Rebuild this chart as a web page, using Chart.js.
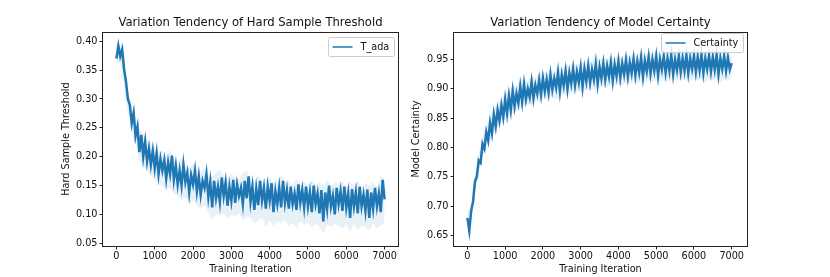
<!DOCTYPE html>
<html>
<head>
<meta charset="utf-8">
<script src="https://cdn.jsdelivr.net/npm/chart.js@4"></script>
<style>
  body { margin: 0; background: #fff; }
  #wrap { position: relative; width: 830px; height: 277px; }
  canvas { position: absolute; top: 0; }
</style>
</head>
<body>
<div id="wrap">
  <canvas id="thresholdChart" width="415" height="277" style="left:0"></canvas>
  <canvas id="certaintyChart" width="425" height="277" style="left:405px"></canvas>
</div>
<script>
// logged every 50 iterations (line) and every 100 iterations (shaded band)
const LINE_STEP = 50;
const BAND_STEP = 100;

const iterTicks = [0, 1000, 2000, 3000, 4000, 5000, 6000, 7000];
const thresholdTicks = [0.05, 0.10, 0.15, 0.20, 0.25, 0.30, 0.35, 0.40];
const certaintyTicks = [0.65, 0.70, 0.75, 0.80, 0.85, 0.90, 0.95];

// T_ada, hard sample threshold
const tAda = [
  0.370, 0.392, 0.374, 0.386, 0.352, 0.330, 0.300, 0.290, 0.258, 0.276,
  0.236, 0.252, 0.208, 0.238, 0.200, 0.226, 0.192, 0.214, 0.186, 0.210,
  0.180, 0.206, 0.170, 0.196, 0.176, 0.194, 0.162, 0.190, 0.170, 0.202,
  0.160, 0.184, 0.152, 0.176, 0.150, 0.186, 0.156, 0.172, 0.138, 0.168,
  0.152, 0.176, 0.140, 0.166, 0.134, 0.158, 0.146, 0.170, 0.130, 0.156,
  0.112, 0.158, 0.128, 0.148, 0.122, 0.164, 0.132, 0.155, 0.115, 0.148,
  0.124, 0.160, 0.120, 0.152, 0.132, 0.146, 0.118, 0.158, 0.128, 0.166,
  0.122, 0.148, 0.108, 0.144, 0.116, 0.158, 0.124, 0.146, 0.110, 0.148,
  0.124, 0.154, 0.104, 0.140, 0.118, 0.146, 0.112, 0.158, 0.120, 0.142,
  0.110, 0.148, 0.118, 0.136, 0.108, 0.152, 0.120, 0.142, 0.112, 0.148,
  0.114, 0.138, 0.104, 0.150, 0.118, 0.136, 0.102, 0.142, 0.088, 0.138,
  0.110, 0.150, 0.114, 0.132, 0.100, 0.146, 0.118, 0.140, 0.106, 0.148,
  0.112, 0.136, 0.094, 0.144, 0.114, 0.138, 0.102, 0.148, 0.114, 0.134,
  0.106, 0.143, 0.094, 0.138, 0.110, 0.146, 0.114, 0.136, 0.104, 0.160,
  0.126
];
const tAdaUpper = [
  0.398, 0.392, 0.358, 0.312, 0.282, 0.262, 0.246, 0.240, 0.230, 0.222,
  0.214, 0.208, 0.210, 0.200, 0.212, 0.196, 0.188, 0.200, 0.184, 0.180,
  0.188, 0.176, 0.172, 0.182, 0.170, 0.166, 0.172, 0.178, 0.166, 0.162,
  0.170, 0.164, 0.160, 0.172, 0.176, 0.160, 0.156, 0.168, 0.158, 0.160,
  0.164, 0.154, 0.160, 0.168, 0.156, 0.158, 0.150, 0.162, 0.154, 0.158,
  0.150, 0.160, 0.152, 0.156, 0.150, 0.160, 0.148, 0.156, 0.152, 0.158,
  0.148, 0.156, 0.150, 0.158, 0.146, 0.154, 0.150, 0.156, 0.148, 0.166,
  0.162
];
const tAdaLower = [
  0.362, 0.362, 0.322, 0.276, 0.242, 0.222, 0.192, 0.184, 0.176, 0.168,
  0.160, 0.152, 0.150, 0.142, 0.146, 0.136, 0.132, 0.126, 0.130, 0.118,
  0.124, 0.114, 0.110, 0.116, 0.104, 0.090, 0.100, 0.098, 0.102, 0.094,
  0.100, 0.096, 0.102, 0.090, 0.096, 0.094, 0.084, 0.090, 0.094, 0.078,
  0.090, 0.080, 0.088, 0.084, 0.090, 0.080, 0.086, 0.076, 0.088, 0.082,
  0.086, 0.078, 0.084, 0.078, 0.066, 0.082, 0.078, 0.084, 0.080, 0.076,
  0.082, 0.070, 0.084, 0.074, 0.080, 0.078, 0.072, 0.084, 0.076, 0.080,
  0.088
];

// model certainty
const certainty = [
  0.680, 0.658, 0.692, 0.708, 0.742, 0.750, 0.778, 0.774, 0.806, 0.798,
  0.826, 0.812, 0.842, 0.824, 0.856, 0.836, 0.864, 0.846, 0.872, 0.852,
  0.882, 0.858, 0.888, 0.864, 0.896, 0.870, 0.892, 0.876, 0.904, 0.878,
  0.908, 0.882, 0.900, 0.886, 0.912, 0.884, 0.906, 0.892, 0.915, 0.890,
  0.918, 0.896, 0.916, 0.894, 0.924, 0.899, 0.918, 0.902, 0.928, 0.896,
  0.924, 0.906, 0.930, 0.900, 0.927, 0.909, 0.934, 0.906, 0.929, 0.911,
  0.936, 0.904, 0.934, 0.913, 0.939, 0.911, 0.933, 0.916, 0.942, 0.909,
  0.937, 0.918, 0.943, 0.916, 0.939, 0.921, 0.945, 0.914, 0.941, 0.922,
  0.947, 0.919, 0.943, 0.925, 0.949, 0.921, 0.945, 0.927, 0.951, 0.923,
  0.947, 0.928, 0.953, 0.921, 0.948, 0.930, 0.954, 0.926, 0.950, 0.931,
  0.955, 0.923, 0.950, 0.933, 0.955, 0.928, 0.952, 0.931, 0.957, 0.925,
  0.950, 0.932, 0.956, 0.929, 0.952, 0.931, 0.957, 0.927, 0.952, 0.934,
  0.956, 0.929, 0.954, 0.932, 0.958, 0.927, 0.952, 0.934, 0.957, 0.930,
  0.954, 0.933, 0.958, 0.925, 0.952, 0.934, 0.956, 0.931, 0.953, 0.933,
  0.944
];
const certaintyUpper = [
  0.690, 0.702, 0.756, 0.790, 0.818, 0.838, 0.852, 0.866, 0.874, 0.882,
  0.892, 0.898, 0.906, 0.904, 0.914, 0.918, 0.912, 0.922, 0.918, 0.926,
  0.930, 0.926, 0.934, 0.930, 0.940, 0.934, 0.942, 0.938, 0.945, 0.940,
  0.948, 0.944, 0.950, 0.946, 0.962, 0.948, 0.954, 0.950, 0.956, 0.952,
  0.958, 0.954, 0.960, 0.955, 0.962, 0.958, 0.964, 0.957, 0.964, 0.960,
  0.966, 0.960, 0.964, 0.961, 0.967, 0.960, 0.965, 0.961, 0.966, 0.962,
  0.965, 0.961, 0.966, 0.962, 0.965, 0.961, 0.966, 0.962, 0.964, 0.961,
  0.956
];
const certaintyLower = [
  0.664, 0.674, 0.724, 0.760, 0.786, 0.802, 0.812, 0.824, 0.834, 0.842,
  0.848, 0.852, 0.858, 0.862, 0.866, 0.870, 0.874, 0.872, 0.880, 0.878,
  0.884, 0.882, 0.886, 0.884, 0.882, 0.890, 0.890, 0.892, 0.894, 0.896,
  0.894, 0.896, 0.900, 0.898, 0.900, 0.902, 0.904, 0.902, 0.906, 0.904,
  0.908, 0.906, 0.910, 0.908, 0.912, 0.910, 0.912, 0.910, 0.914, 0.912,
  0.914, 0.912, 0.916, 0.912, 0.916, 0.914, 0.917, 0.914, 0.918, 0.912,
  0.917, 0.914, 0.918, 0.910, 0.917, 0.914, 0.918, 0.912, 0.916, 0.914,
  0.920
];

const BLUE = '#1f77b4';
const FONT = '"DejaVu Sans", sans-serif';
const TEXT = '#111';

// black box around the plot area (matplotlib spines)
const framePlugin = {
  id: 'frame',
  afterDatasetsDraw(chart) {
    const { ctx, chartArea: a } = chart;
    ctx.save();
    ctx.strokeStyle = '#222';
    ctx.lineWidth = 1;
    ctx.strokeRect(Math.round(a.left) - 0.5, Math.round(a.top) + 0.5,
      Math.round(a.right - a.left) + 1, Math.round(a.bottom - a.top));
    ctx.restore();
  }
};

// legend box in the upper right corner, only for the main line
const boxLegendPlugin = {
  id: 'boxLegend',
  afterDraw(chart, args, opts) {
    const { ctx, chartArea: a } = chart;
    const label = chart.data.datasets[0].label;
    ctx.save();
    ctx.font = '9.7px ' + FONT;
    const tw = ctx.measureText(label).width;
    const w = Math.round(4 + 20 + 8 + tw + 5), h = 19;
    const x = Math.round(a.right) - 4 - w + 0.5;
    const y = Math.round(a.top) + opts.top + 0.5;
    ctx.beginPath();
    ctx.roundRect(x, y, w, h, 2);
    ctx.fillStyle = 'rgba(255,255,255,0.8)';
    ctx.fill();
    ctx.strokeStyle = '#cccccc';
    ctx.lineWidth = 1;
    ctx.stroke();
    const cy = y + h / 2;
    ctx.beginPath();
    ctx.moveTo(x + 4, cy);
    ctx.lineTo(x + 24, cy);
    ctx.strokeStyle = BLUE;
    ctx.lineWidth = 1.5;
    ctx.stroke();
    ctx.fillStyle = TEXT;
    ctx.textBaseline = 'middle';
    ctx.fillText(label, x + 32, cy);
    ctx.restore();
  }
};

function buildDatasets(label, values, upper, lower) {
  return [
    {
      label: label,
      data: values.map((v, i) => ({ x: i * LINE_STEP, y: v })),
      borderColor: BLUE,
      borderWidth: 2.5,
      pointRadius: 0,
      fill: false
    },
    {
      label: label + ' upper',
      data: upper.map((v, i) => ({ x: i * BAND_STEP, y: v })),
      borderWidth: 0,
      borderColor: 'rgba(0,0,0,0)',
      backgroundColor: 'rgba(31,119,180,0.1)',
      pointRadius: 0,
      fill: '+1'
    },
    {
      label: label + ' lower',
      data: lower.map((v, i) => ({ x: i * BAND_STEP, y: v })),
      borderWidth: 0,
      borderColor: 'rgba(0,0,0,0)',
      pointRadius: 0,
      fill: false
    }
  ];
}

function buildConfig(o) {
  const tickFont = { family: FONT, size: 9.7 };
  return {
    type: 'line',
    data: { datasets: buildDatasets(o.label, o.values, o.upper, o.lower) },
    options: {
      responsive: false,
      devicePixelRatio: 1,
      animation: false,
      layout: { padding: { left: 0, right: o.padRight, top: 0, bottom: 0 } },
      plugins: {
        legend: { display: false },
        tooltip: { enabled: false },
        title: {
          display: true,
          text: o.title,
          fullSize: false,
          color: TEXT,
          font: { family: FONT, size: 11.6, weight: 'normal', lineHeight: 1.2 },
          padding: { top: 16, bottom: 2.1 }
        },
        boxLegend: { top: o.legendTop }
      },
      scales: {
        x: {
          type: 'linear',
          min: o.xRange[0],
          max: o.xRange[1],
          border: { display: false },
          grid: { drawOnChartArea: false, tickLength: 3.5, color: '#222' },
          afterBuildTicks: s => { s.ticks = iterTicks.map(v => ({ value: v })); },
          ticks: {
            autoSkip: false, maxRotation: 0,
            padding: 1, color: TEXT, font: tickFont,
            callback: v => String(v)
          },
          title: {
            display: true, text: 'Training Iteration', color: TEXT,
            font: { family: FONT, size: 9.7, lineHeight: 1.2 },
            padding: { top: 0, bottom: 2 }
          },
          afterFit: s => { s.height = 31; }
        },
        y: {
          min: o.yRange[0],
          max: o.yRange[1],
          border: { display: false },
          grid: { drawOnChartArea: false, tickLength: 3.5, color: '#222' },
          afterBuildTicks: s => { s.ticks = o.yTicks.map(v => ({ value: v })); },
          ticks: {
            autoSkip: false, padding: 2,
            color: TEXT, font: tickFont,
            callback: v => v.toFixed(2)
          },
          title: {
            display: true, text: o.yTitle, color: TEXT,
            font: { family: FONT, size: 9.7, lineHeight: 1.2 },
            padding: { top: o.yTitlePad, bottom: 0 }
          },
          afterFit: s => { s.width = o.yWidth; }
        }
      }
    },
    plugins: [framePlugin, boxLegendPlugin]
  };
}

document.addEventListener('DOMContentLoaded', () => {
  new Chart(document.getElementById('thresholdChart'), buildConfig({
    label: 'T_ada',
    title: 'Variation Tendency of Hard Sample Threshold',
    yTitle: 'Hard Sample Threshold',
    values: tAda, upper: tAdaUpper, lower: tAdaLower, yTicks: thresholdTicks,
    xRange: [-350, 7350], yRange: [0.0453, 0.416],
    yWidth: 103, yTitlePad: 61, padRight: 17, legendTop: 5
  }));

  new Chart(document.getElementById('certaintyChart'), buildConfig({
    label: 'Certainty',
    title: 'Variation Tendency of Model Certainty',
    yTitle: 'Model Certainty',
    values: certainty, upper: certaintyUpper, lower: certaintyLower, yTicks: certaintyTicks,
    xRange: [-355, 7405], yRange: [0.632, 0.997],
    yWidth: 49, yTitlePad: 6, padRight: 83, legendTop: 1
  }));
});
</script>
</body>
</html>
